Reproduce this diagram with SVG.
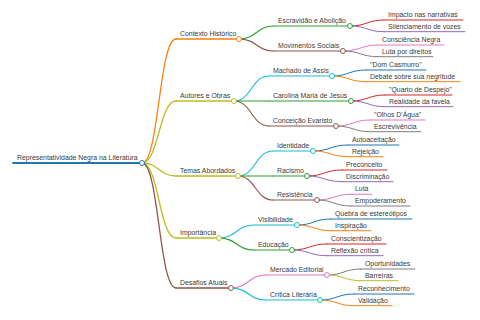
<svg xmlns="http://www.w3.org/2000/svg" width="480" height="320" viewBox="0 0 480 320">
<style>
text{font-family:"Liberation Sans",Arial,sans-serif;font-size:6.9px;fill:#3a3a3a}
path,line,circle{fill:none;stroke-linecap:round}
circle{fill:#fff;stroke-width:1}
.l0{stroke-width:1.8}.l1{stroke-width:1.3}.l2{stroke-width:1.1}.l3{stroke-width:1}
.c0{stroke:#1f77b4}.c1{stroke:#ff7f0e}.c2{stroke:#2ca02c}.c3{stroke:#d62728}.c4{stroke:#9467bd}
.c5{stroke:#8c564b}.c6{stroke:#e377c2}.c7{stroke:#7f7f7f}.c8{stroke:#bcbd22}.c9{stroke:#17becf}
</style>
<rect width="480" height="320" fill="#fff"/>
<g id="connectors">
<path class="l1 c1" d="M142,163 C159,163 159,39 176,39"/>
<path class="l1 c8" d="M142,163 C159,163 159,101 176,101"/>
<path class="l1 c8" d="M142,163 C159,163 159,176 176,176"/>
<path class="l1 c8" d="M142,163 C159,163 159,238 176,238"/>
<path class="l1 c5" d="M142,163 C159,163 159,288 176,288"/>
<path class="l2 c2" d="M239,39 C256.5,39 256.5,26 274,26"/>
<path class="l2 c5" d="M239,39 C256.5,39 256.5,51 274,51"/>
<path class="l2 c9" d="M234,101 C251.5,101 251.5,76 269,76"/>
<path class="l2 c2" d="M234,101 C251.5,101 251.5,101 269,101"/>
<path class="l2 c5" d="M234,101 C251.5,101 251.5,126 269,126"/>
<path class="l2 c9" d="M238,176 C255.5,176 255.5,151 273,151"/>
<path class="l2 c2" d="M238,176 C255.5,176 255.5,176 273,176"/>
<path class="l2 c5" d="M238,176 C255.5,176 255.5,200 273,200"/>
<path class="l2 c9" d="M219,238 C236.5,238 236.5,225 254,225"/>
<path class="l2 c2" d="M219,238 C236.5,238 236.5,250 254,250"/>
<path class="l2 c6" d="M231,288 C248.5,288 248.5,275 266,275"/>
<path class="l2 c9" d="M231,288 C248.5,288 248.5,300 266,300"/>
<path class="l3 c3" d="M350,26 C367,26 367,20 384,20"/>
<path class="l3 c4" d="M350,26 C367,26 367,31.7 384,31.7"/>
<path class="l3 c6" d="M343,51 C360.5,51 360.5,45 378,45"/>
<path class="l3 c7" d="M343,51 C360.5,51 360.5,56.7 378,56.7"/>
<path class="l3 c0" d="M332,76 C349,76 349,70 366,70"/>
<path class="l3 c1" d="M332,76 C349,76 349,81.7 366,81.7"/>
<path class="l3 c3" d="M351,101 C368,101 368,95 385,95"/>
<path class="l3 c4" d="M351,101 C368,101 368,106.7 385,106.7"/>
<path class="l3 c6" d="M336,126 C353,126 353,120 370,120"/>
<path class="l3 c7" d="M336,126 C353,126 353,131.7 370,131.7"/>
<path class="l3 c0" d="M313,151 C330.5,151 330.5,145 348,145"/>
<path class="l3 c1" d="M313,151 C330.5,151 330.5,156.7 348,156.7"/>
<path class="l3 c3" d="M307,176 C324.5,176 324.5,170 342,170"/>
<path class="l3 c4" d="M307,176 C324.5,176 324.5,181.7 342,181.7"/>
<path class="l3 c6" d="M317,200 C334,200 334,194.3 351,194.3"/>
<path class="l3 c7" d="M317,200 C334,200 334,206 351,206"/>
<path class="l3 c0" d="M297,225 C314,225 314,219 331,219"/>
<path class="l3 c1" d="M297,225 C314,225 314,230.7 331,230.7"/>
<path class="l3 c3" d="M292,250 C309.5,250 309.5,244 327,244"/>
<path class="l3 c4" d="M292,250 C309.5,250 309.5,255.7 327,255.7"/>
<path class="l3 c7" d="M327,275 C344,275 344,269 361,269"/>
<path class="l3 c8" d="M327,275 C344,275 344,280.7 361,280.7"/>
<path class="l3 c0" d="M320,300 C337,300 337,294 354,294"/>
<path class="l3 c1" d="M320,300 C337,300 337,305.7 354,305.7"/>
</g>
<g id="root"><line class="l0 c0" x1="13" y1="163" x2="142" y2="163"/><text x="17" y="160">Representatividade Negra na Literatura</text><circle class="c0" cx="142" cy="163" r="2.5"/></g>
<g id="contexto"><line class="l1 c1" x1="176" y1="39" x2="239" y2="39"/><text x="180" y="36">Contexto Histórico</text><circle class="c1" cx="239" cy="39" r="2.5"/></g>
<g id="autores"><line class="l1 c8" x1="176" y1="101" x2="234" y2="101"/><text x="180" y="98">Autores e Obras</text><circle class="c8" cx="234" cy="101" r="2.5"/></g>
<g id="temas"><line class="l1 c8" x1="176" y1="176" x2="238" y2="176"/><text x="180" y="173">Temas Abordados</text><circle class="c8" cx="238" cy="176" r="2.5"/></g>
<g id="importancia"><line class="l1 c8" x1="176" y1="238" x2="219" y2="238"/><text x="180" y="235">Importância</text><circle class="c8" cx="219" cy="238" r="2.5"/></g>
<g id="desafios"><line class="l1 c5" x1="176" y1="288" x2="231" y2="288"/><text x="180" y="285">Desafios Atuais</text><circle class="c5" cx="231" cy="288" r="2.5"/></g>
<g id="escravidao"><line class="l2 c2" x1="274" y1="26" x2="350" y2="26"/><text x="278" y="23">Escravidão e Abolição</text><circle class="c2" cx="350" cy="26" r="2.5"/></g>
<g id="movimentos"><line class="l2 c5" x1="274" y1="51" x2="343" y2="51"/><text x="278" y="48">Movimentos Sociais</text><circle class="c5" cx="343" cy="51" r="2.5"/></g>
<g id="machado"><line class="l2 c9" x1="269" y1="76" x2="332" y2="76"/><text x="273" y="73">Machado de Assis</text><circle class="c9" cx="332" cy="76" r="2.5"/></g>
<g id="carolina"><line class="l2 c2" x1="269" y1="101" x2="351" y2="101"/><text x="273" y="98">Carolina Maria de Jesus</text><circle class="c2" cx="351" cy="101" r="2.5"/></g>
<g id="conceicao"><line class="l2 c5" x1="269" y1="126" x2="336" y2="126"/><text x="273" y="123">Conceição Evaristo</text><circle class="c5" cx="336" cy="126" r="2.5"/></g>
<g id="identidade"><line class="l2 c9" x1="273" y1="151" x2="313" y2="151"/><text x="277" y="148">Identidade</text><circle class="c9" cx="313" cy="151" r="2.5"/></g>
<g id="racismo"><line class="l2 c2" x1="273" y1="176" x2="307" y2="176"/><text x="277" y="173">Racismo</text><circle class="c2" cx="307" cy="176" r="2.5"/></g>
<g id="resistencia"><line class="l2 c5" x1="273" y1="200" x2="317" y2="200"/><text x="277" y="197">Resistência</text><circle class="c5" cx="317" cy="200" r="2.5"/></g>
<g id="visibilidade"><line class="l2 c9" x1="254" y1="225" x2="297" y2="225"/><text x="258" y="222">Visibilidade</text><circle class="c9" cx="297" cy="225" r="2.5"/></g>
<g id="educacao"><line class="l2 c2" x1="254" y1="250" x2="292" y2="250"/><text x="258" y="247">Educação</text><circle class="c2" cx="292" cy="250" r="2.5"/></g>
<g id="mercado"><line class="l2 c6" x1="266" y1="275" x2="327" y2="275"/><text x="270" y="272">Mercado Editorial</text><circle class="c6" cx="327" cy="275" r="2.5"/></g>
<g id="critica"><line class="l2 c9" x1="266" y1="300" x2="320" y2="300"/><text x="270" y="297">Crítica Literária</text><circle class="c9" cx="320" cy="300" r="2.5"/></g>
<g id="impacto"><line class="l3 c3" x1="384" y1="20" x2="463" y2="20"/><text x="388" y="17">Impacto nas narrativas</text></g>
<g id="silenciamento"><line class="l3 c4" x1="384" y1="31.7" x2="465" y2="31.7"/><text x="388" y="28.7">Silenciamento de vozes</text></g>
<g id="consciencia"><line class="l3 c6" x1="378" y1="45" x2="444" y2="45"/><text x="382" y="42">Consciência Negra</text></g>
<g id="luta-direitos"><line class="l3 c7" x1="378" y1="56.7" x2="433" y2="56.7"/><text x="382" y="53.7">Luta por direitos</text></g>
<g id="dom-casmurro"><line class="l3 c0" x1="366" y1="70" x2="426" y2="70"/><text x="370" y="67">"Dom Casmurro"</text></g>
<g id="debate"><line class="l3 c1" x1="366" y1="81.7" x2="460" y2="81.7"/><text x="370" y="78.7">Debate sobre sua negritude</text></g>
<g id="quarto"><line class="l3 c3" x1="385" y1="95" x2="452" y2="95"/><text x="389" y="92">"Quarto de Despejo"</text></g>
<g id="realidade"><line class="l3 c4" x1="385" y1="106.7" x2="453" y2="106.7"/><text x="389" y="103.7">Realidade da favela</text></g>
<g id="olhos"><line class="l3 c6" x1="370" y1="120" x2="425" y2="120"/><text x="374" y="117">"Olhos D'Água"</text></g>
<g id="escrevivencia"><line class="l3 c7" x1="370" y1="131.7" x2="421" y2="131.7"/><text x="374" y="128.7">Escrevivência</text></g>
<g id="autoaceitacao"><line class="l3 c0" x1="348" y1="145" x2="399" y2="145"/><text x="352" y="142">Autoaceitação</text></g>
<g id="rejeicao"><line class="l3 c1" x1="348" y1="156.7" x2="383" y2="156.7"/><text x="352" y="153.7">Rejeição</text></g>
<g id="preconceito"><line class="l3 c3" x1="342" y1="170" x2="387" y2="170"/><text x="346" y="167">Preconceito</text></g>
<g id="discriminacao"><line class="l3 c4" x1="342" y1="181.7" x2="393" y2="181.7"/><text x="346" y="178.7">Discriminação</text></g>
<g id="luta"><line class="l3 c6" x1="351" y1="194.3" x2="372" y2="194.3"/><text x="355" y="191.3">Luta</text></g>
<g id="empoderamento"><line class="l3 c7" x1="351" y1="206" x2="410" y2="206"/><text x="355" y="203">Empoderamento</text></g>
<g id="quebra"><line class="l3 c0" x1="331" y1="219" x2="412" y2="219"/><text x="335" y="216">Quebra de estereótipos</text></g>
<g id="inspiracao"><line class="l3 c1" x1="331" y1="230.7" x2="371" y2="230.7"/><text x="335" y="227.7">Inspiração</text></g>
<g id="conscientizacao"><line class="l3 c3" x1="327" y1="244" x2="386" y2="244"/><text x="331" y="241">Conscientização</text></g>
<g id="reflexao"><line class="l3 c4" x1="327" y1="255.7" x2="383" y2="255.7"/><text x="331" y="252.7">Reflexão crítica</text></g>
<g id="oportunidades"><line class="l3 c7" x1="361" y1="269" x2="415" y2="269"/><text x="365" y="266">Oportunidades</text></g>
<g id="barreiras"><line class="l3 c8" x1="361" y1="280.7" x2="398" y2="280.7"/><text x="365" y="277.7">Barreiras</text></g>
<g id="reconhecimento"><line class="l3 c0" x1="354" y1="294" x2="414" y2="294"/><text x="358" y="291">Reconhecimento</text></g>
<g id="validacao"><line class="l3 c1" x1="354" y1="305.7" x2="392" y2="305.7"/><text x="358" y="302.7">Validação</text></g>
</svg>
